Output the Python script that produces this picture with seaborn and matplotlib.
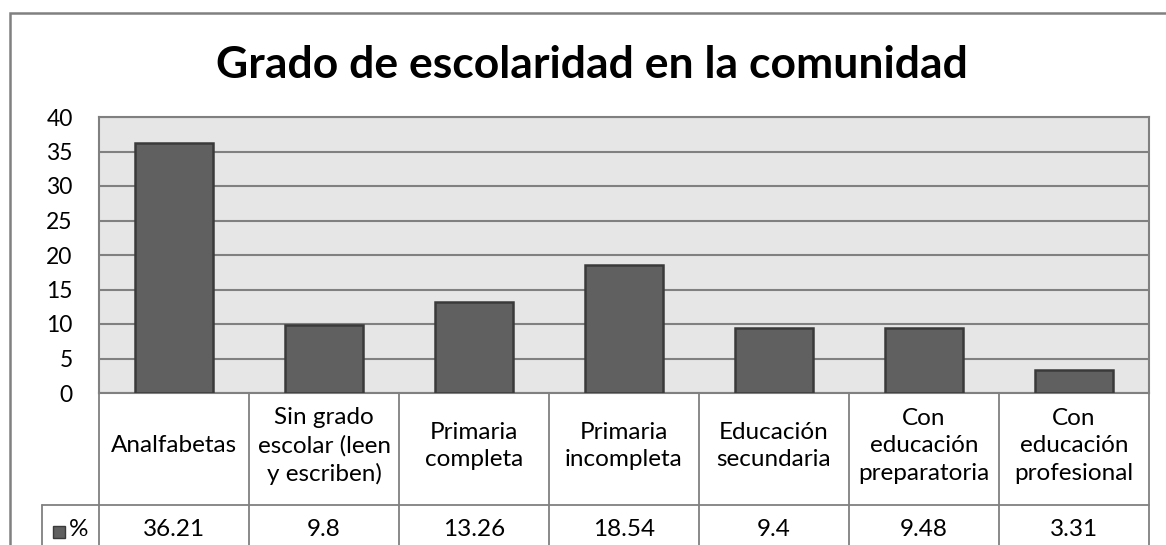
import matplotlib
matplotlib.use("Agg")
import matplotlib.pyplot as plt
import matplotlib.transforms as mtransforms
from matplotlib.patches import Rectangle
import seaborn as sns
import pandas as pd

# ---- data ----
categories = ["Analfabetas", "Sin grado\nescolar (leen\ny escriben)", "Primaria\ncompleta",
              "Primaria\nincompleta", "Educación\nsecundaria", "Con\neducación\npreparatoria",
              "Con\neducación\nprofesional"]
values = [36.21, 9.8, 13.26, 18.54, 9.4, 9.48, 3.31]
value_labels = ["36.21", "9.8", "13.26", "18.54", "9.4", "9.48", "3.31"]
series_name = "%"
title = "Grado de escolaridad en la comunidad"
yticks = [0, 5, 10, 15, 20, 25, 30, 35, 40]

sns.set_theme(style="white")
plt.rcParams["font.family"] = ["Lato", "DejaVu Sans"]

W, H = 1166, 545
fig = plt.figure(figsize=(W / 100, H / 100), dpi=100)
fig.patch.set_facecolor("white")

# plot area in pixels
pl, pr, pt, pb = 99, 1149, 117, 393
ax = fig.add_axes([pl / W, (H - pb) / H, (pr - pl) / W, (pb - pt) / H])

df = pd.DataFrame({"cat": categories, "val": values})
sns.barplot(data=df, x="cat", y="val", ax=ax, color="#606060", width=0.52,
            edgecolor="#3a3a3a", linewidth=1.8, saturation=1, zorder=3)
ax.set_facecolor("#e6e6e6")
ax.set_xlim(-0.5, len(categories) - 0.5)
ax.set_ylim(0, 40)
ax.set_yticks(yticks)
ax.set_yticklabels([str(t) for t in yticks], fontsize=16.5, color="black")
ax.tick_params(axis="y", length=0, pad=19)
ax.set_xticks([])
ax.set_xlabel("")
ax.set_ylabel("")
ax.yaxis.grid(True, color="#808080", linewidth=1.5, zorder=1)
ax.set_axisbelow(True)
for s in ax.spines.values():
    s.set_color("#808080")
    s.set_linewidth(1.5)

# overlay in pixel coordinates
ov = fig.add_axes([0, 0, 1, 1], zorder=-1)
ov.set_xlim(0, W)
ov.set_ylim(H, 0)
ov.axis("off")

# outer chart border
ov.plot([10, 10, W + 5], [H + 5, 13, 13], color="#808080", linewidth=1.8, solid_joinstyle="miter")

# title
ov.text(592, 65, title, fontsize=32, fontweight="bold", ha="center", va="center", color="black")

# table using category positions from the bar axes x scale
bt = mtransforms.blended_transform_factory(ax.transData, ov.transData)
row1_bot, row2_mid = 505, 529
lc = "#808080"
for i in range(len(categories) + 1):
    ov.plot([i - 0.5, i - 0.5], [pb, H + 5], color=lc, linewidth=1.3, transform=bt)
ov.plot([-0.5, len(categories) - 0.5], [row1_bot, row1_bot], color=lc, linewidth=1.3, transform=bt)
ov.plot([42, pl], [row1_bot, row1_bot], color=lc, linewidth=1.3)
ov.plot([42, 42], [row1_bot, H + 5], color=lc, linewidth=1.3)

for i, (c, v) in enumerate(zip(categories, value_labels)):
    ov.text(i, 446, c, transform=bt, ha="center", va="center", fontsize=17.5,
            linespacing=1.37, color="black")
    ov.text(i, row2_mid, v, transform=bt, ha="center", va="center", fontsize=17.5, color="black")

ov.add_patch(Rectangle((53, 526), 12, 12, facecolor="#606060", edgecolor="#3a3a3a", linewidth=1.0))
ov.text(69, row2_mid, series_name, ha="left", va="center", fontsize=17.5, color="black")

fig.savefig("out.png", dpi=100, facecolor="white")
